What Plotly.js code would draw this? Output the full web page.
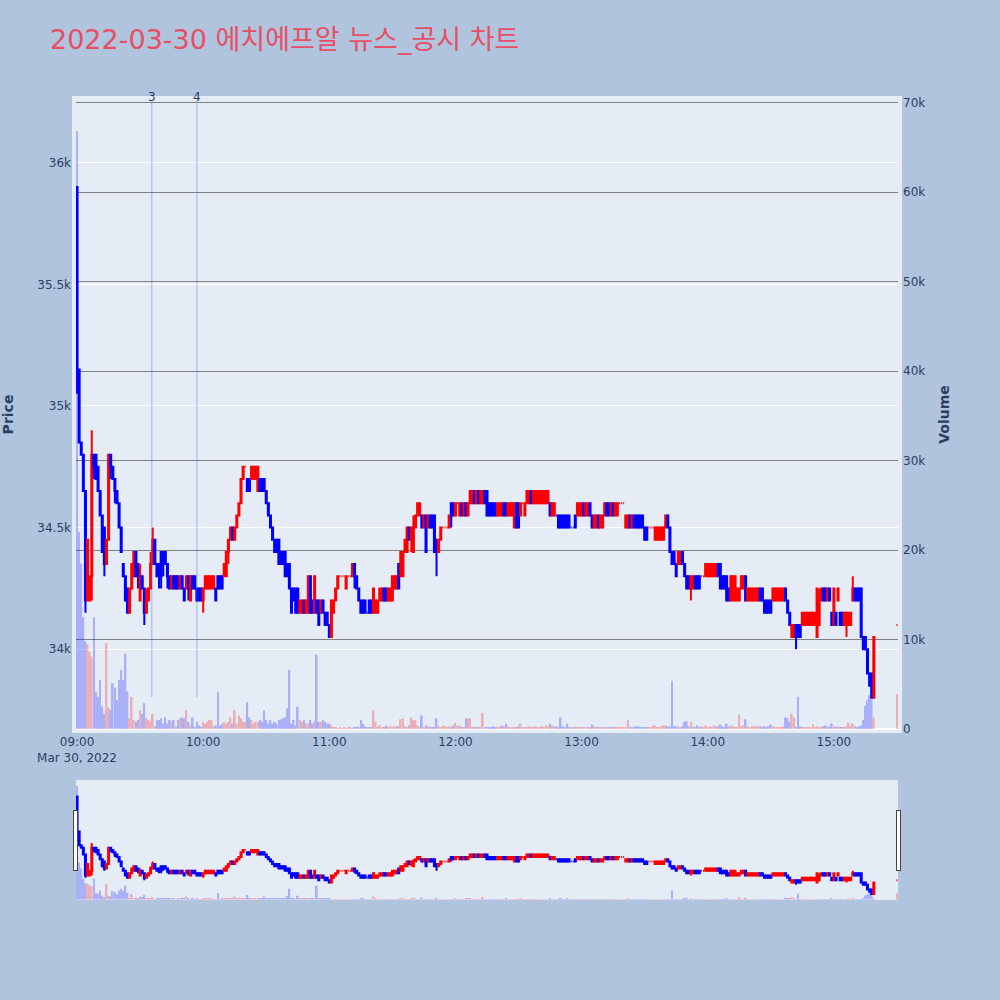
<!DOCTYPE html>
<html><head><meta charset="utf-8">
<script src="https://cdn.plot.ly/plotly-3.0.1.min.js"></script>
<style>html,body{margin:0;padding:0;background:#B0C4DE;}</style>
</head><body>
<div id="chart" style="width:1000px;height:1000px;"></div>
<script>
// 1-minute bars from 09:00 to 15:19, plus the 15:30 closing auction bar
const openP = [
35900,35150,34850,34800,34650,34200,34200,34300,34800,34800,
34750,34650,34550,34500,34350,34450,34800,34750,34700,34650,
34600,34500,34350,34300,34250,34150,34250,34300,34400,34350,
34200,34300,34250,34150,34200,34250,34350,34450,34350,34350,
34400,34400,34400,34350,34300,34250,34300,34300,34300,34250,
34300,34250,34250,34300,34200,34300,34300,34250,34250,34250,
34200,34250,34250,34250,34250,34250,34250,34300,34300,34300,
34300,34300,34400,34450,34500,34450,34500,34550,34600,34700,
34750,34700,34700,34700,34700,34700,34650,34700,34700,34700,
34650,34600,34550,34500,34450,34450,34450,34400,34400,34400,
34350,34350,34250,34250,34250,34250,34150,34150,34200,34150,
34150,34300,34200,34150,34200,34200,34150,34200,34150,34150,
34100,34050,34150,34200,34250,34300,34300,34300,34250,34300,
34300,34300,34350,34300,34250,34200,34200,34200,34150,34200,
34200,34150,34150,34150,34200,34200,34250,34250,34200,34200,
34200,34250,34250,34350,34300,34300,34400,34400,34500,34450,
34400,34500,34550,34550,34550,34500,34550,34500,34550,34550,
34550,34450,34400,34450,34500,34500,34500,34500,34600,34600,
34550,34600,34550,34600,34550,34600,34550,34600,34600,34650,
34600,34650,34600,34600,34650,34650,34600,34600,34600,34600,
34550,34550,34550,34600,34600,34550,34550,34550,34500,34600,
34600,34550,34600,34550,34600,34600,34650,34600,34600,34600,
34600,34600,34600,34600,34600,34600,34550,34550,34550,34550,
34550,34550,34550,34550,34550,34500,34500,34550,34550,34550,
34550,34600,34550,34550,34600,34550,34500,34500,34550,34500,
34500,34550,34600,34600,34550,34600,34550,34550,34600,34600,
34600,34500,34500,34550,34500,34550,34550,34550,34550,34550,
34500,34500,34500,34500,34500,34450,34450,34450,34450,34450,
34500,34550,34500,34400,34400,34350,34350,34350,34400,34350,
34300,34300,34250,34250,34300,34300,34300,34300,34300,34300,
34300,34300,34300,34300,34300,34350,34350,34300,34300,34300,
34250,34200,34200,34200,34200,34200,34250,34250,34300,34200,
34200,34200,34200,34200,34200,34250,34250,34200,34200,34200,
34200,34200,34200,34200,34200,34200,34200,34250,34200,34150,
34050,34050,34100,34100,34100,34100,34100,34100,34100,34100,
34100,34100,34050,34100,34200,34250,34250,34200,34250,34150,
34100,34150,34200,34150,34150,34100,34100,34100,34100,34200,
34250,34250,34250,34250,34050,34050,34000,33900,33900,33800,
34100];
const highP = [
35900,35150,34850,34800,34650,34450,34300,34900,34800,34800,
34750,34650,34550,34500,34450,34800,34800,34750,34700,34650,
34600,34500,34350,34300,34250,34250,34350,34400,34400,34350,
34350,34300,34250,34250,34250,34400,34500,34450,34350,34350,
34400,34400,34400,34350,34300,34300,34300,34300,34300,34300,
34300,34250,34300,34300,34300,34300,34300,34250,34250,34250,
34250,34300,34300,34300,34300,34300,34250,34300,34300,34300,
34350,34400,34450,34500,34500,34500,34550,34600,34700,34750,
34750,34700,34700,34750,34750,34750,34750,34700,34700,34700,
34650,34600,34550,34500,34450,34450,34450,34400,34400,34400,
34350,34350,34250,34250,34250,34250,34200,34200,34200,34200,
34300,34300,34200,34300,34200,34200,34200,34200,34150,34150,
34100,34200,34200,34250,34300,34300,34300,34300,34300,34300,
34300,34350,34350,34300,34250,34200,34200,34200,34150,34200,
34200,34250,34200,34200,34250,34250,34250,34250,34250,34250,
34300,34300,34300,34350,34400,34400,34450,34500,34500,34500,
34550,34550,34600,34600,34550,34550,34550,34550,34550,34550,
34550,34450,34450,34500,34500,34500,34500,34550,34600,34600,
34600,34600,34600,34600,34600,34600,34600,34650,34650,34650,
34650,34650,34650,34650,34650,34650,34600,34600,34600,34600,
34600,34600,34600,34600,34600,34600,34600,34600,34600,34600,
34600,34600,34600,34600,34650,34650,34650,34650,34650,34650,
34650,34650,34650,34650,34650,34600,34600,34600,34550,34550,
34550,34550,34550,34550,34550,34500,34500,34550,34600,34600,
34600,34600,34600,34600,34600,34550,34550,34550,34550,34550,
34550,34600,34600,34600,34600,34600,34600,34600,34600,34600,
34600,34550,34550,34550,34550,34550,34550,34550,34550,34550,
34500,34500,34500,34500,34500,34500,34500,34500,34500,34500,
34550,34550,34500,34400,34400,34350,34400,34400,34400,34350,
34300,34300,34300,34300,34300,34300,34300,34300,34300,34350,
34350,34350,34350,34350,34350,34350,34350,34300,34300,34300,
34250,34300,34300,34300,34250,34250,34300,34300,34300,34250,
34250,34250,34250,34250,34250,34250,34250,34200,34200,34200,
34200,34250,34250,34250,34250,34250,34250,34250,34200,34150,
34100,34100,34100,34100,34100,34150,34150,34150,34150,34150,
34150,34150,34250,34250,34250,34250,34250,34250,34250,34150,
34250,34150,34250,34150,34150,34150,34150,34150,34150,34300,
34250,34250,34250,34250,34050,34050,34000,33900,33900,34050,
34100];
const lowP = [
35050,34850,34800,34650,34150,34200,34200,34200,34700,34700,
34650,34550,34400,34300,34350,34450,34700,34700,34600,34600,
34500,34400,34300,34200,34150,34150,34250,34300,34300,34250,
34200,34250,34100,34150,34200,34250,34350,34350,34300,34250,
34250,34300,34350,34250,34250,34250,34250,34250,34250,34250,
34250,34200,34250,34200,34200,34250,34250,34200,34200,34200,
34150,34250,34250,34250,34250,34250,34200,34250,34250,34250,
34300,34300,34350,34450,34450,34450,34500,34550,34600,34700,
34750,34650,34650,34700,34700,34700,34650,34650,34650,34650,
34600,34550,34500,34450,34400,34400,34350,34350,34350,34300,
34300,34250,34150,34200,34150,34150,34150,34150,34150,34150,
34150,34150,34150,34150,34150,34100,34150,34150,34100,34100,
34050,34050,34150,34200,34250,34300,34300,34300,34250,34300,
34300,34300,34250,34250,34200,34150,34150,34150,34150,34150,
34150,34150,34150,34150,34200,34200,34200,34200,34200,34200,
34200,34250,34250,34250,34300,34300,34400,34400,34450,34400,
34400,34500,34550,34550,34500,34500,34400,34500,34500,34500,
34400,34300,34400,34450,34500,34500,34500,34500,34500,34550,
34550,34600,34550,34550,34550,34550,34550,34600,34600,34600,
34600,34600,34600,34600,34600,34550,34550,34550,34550,34550,
34550,34550,34550,34550,34550,34550,34550,34550,34500,34500,
34500,34550,34600,34550,34600,34600,34600,34600,34600,34600,
34600,34600,34600,34600,34600,34550,34550,34550,34550,34500,
34500,34500,34500,34500,34500,34500,34500,34500,34550,34550,
34550,34550,34550,34550,34550,34500,34500,34500,34500,34500,
34500,34550,34550,34550,34550,34550,34550,34550,34600,34600,
34600,34500,34500,34500,34500,34500,34500,34500,34500,34500,
34450,34450,34500,34500,34500,34450,34450,34450,34450,34450,
34500,34500,34400,34350,34350,34300,34350,34350,34350,34300,
34250,34250,34200,34250,34250,34250,34250,34300,34300,34300,
34300,34300,34300,34300,34300,34300,34250,34250,34250,34200,
34200,34200,34200,34200,34200,34200,34250,34250,34200,34200,
34200,34200,34200,34200,34200,34200,34200,34150,34150,34150,
34150,34200,34200,34200,34200,34200,34200,34200,34150,34100,
34050,34050,34000,34050,34050,34100,34100,34100,34100,34100,
34100,34100,34050,34100,34200,34200,34200,34200,34200,34100,
34100,34100,34200,34100,34100,34100,34050,34100,34100,34200,
34200,34200,34200,34050,34000,34000,33900,33850,33800,33800,
34100];
const closeP = [
35100,34850,34800,34650,34200,34450,34300,34800,34750,34700,
34650,34550,34400,34350,34450,34800,34750,34700,34650,34600,
34500,34400,34300,34200,34150,34250,34350,34400,34300,34300,
34300,34250,34150,34200,34250,34350,34450,34350,34300,34300,
34300,34350,34350,34300,34250,34300,34250,34250,34250,34300,
34250,34200,34300,34250,34300,34250,34250,34200,34200,34200,
34250,34300,34300,34300,34300,34300,34200,34250,34250,34250,
34350,34400,34450,34500,34450,34500,34550,34600,34700,34750,
34750,34650,34650,34750,34750,34750,34750,34650,34650,34650,
34600,34550,34500,34450,34400,34400,34350,34350,34350,34300,
34300,34250,34150,34200,34150,34150,34200,34200,34150,34200,
34300,34150,34150,34300,34150,34100,34200,34150,34100,34100,
34050,34200,34200,34250,34300,34300,34300,34300,34300,34300,
34300,34350,34300,34250,34200,34150,34150,34150,34150,34150,
34150,34250,34200,34200,34250,34250,34200,34200,34250,34250,
34300,34300,34300,34250,34400,34400,34450,34500,34450,34500,
34500,34550,34600,34600,34500,34550,34400,34550,34500,34500,
34400,34400,34450,34500,34500,34500,34500,34550,34550,34550,
34600,34600,34600,34550,34600,34550,34600,34650,34650,34600,
34650,34600,34650,34650,34600,34550,34550,34550,34550,34550,
34600,34600,34600,34550,34550,34600,34600,34600,34600,34500,
34500,34600,34600,34600,34650,34650,34600,34650,34650,34650,
34650,34650,34650,34650,34650,34550,34600,34600,34550,34500,
34500,34500,34500,34500,34500,34500,34500,34500,34600,34600,
34600,34550,34600,34600,34550,34500,34550,34550,34500,34550,
34550,34600,34550,34550,34600,34550,34600,34600,34600,34600,
34600,34550,34550,34500,34550,34500,34500,34500,34500,34500,
34450,34450,34500,34500,34500,34500,34500,34500,34500,34500,
34550,34500,34400,34350,34350,34300,34400,34400,34350,34300,
34250,34250,34300,34300,34250,34250,34250,34300,34300,34350,
34350,34350,34350,34350,34350,34300,34250,34250,34250,34200,
34200,34300,34300,34300,34250,34250,34300,34300,34200,34250,
34250,34250,34250,34250,34250,34200,34200,34150,34150,34150,
34150,34250,34250,34250,34250,34250,34250,34200,34150,34100,
34100,34100,34050,34050,34050,34150,34150,34150,34150,34150,
34150,34150,34250,34200,34250,34200,34200,34250,34200,34100,
34250,34100,34250,34100,34100,34150,34150,34150,34150,34250,
34200,34200,34200,34050,34000,34000,33900,33850,33800,34050,
34100];
const volume = [
66800,22000,18500,12500,9800,9500,8600,8100,12500,4100,
3600,5500,2500,1700,9600,2400,2100,5100,4600,3200,
5500,6600,5500,8400,4200,1200,3600,1000,800,1000,
2100,1700,2900,1200,1000,800,1700,300,1000,1000,
1200,600,1300,600,1000,800,1000,250,1000,1200,
1300,1200,2100,800,400,1300,250,800,400,250,
800,600,800,1000,1000,250,400,4100,400,600,
800,600,800,1300,600,2100,600,1500,1200,800,
800,3000,1300,1000,600,800,800,1000,800,2100,
1000,600,1000,600,800,600,1000,1100,1200,1300,
2300,6600,600,1000,400,2500,1000,800,1000,600,
600,1000,600,800,8300,800,800,1000,800,600,
600,400,200,150,100,150,100,150,100,200,
150,100,200,150,250,1000,600,300,200,200,
250,2100,800,200,400,200,200,400,200,300,
200,300,300,300,1100,1200,300,200,400,1300,
1000,1000,400,200,1500,200,400,300,200,200,
200,1200,300,200,400,300,200,300,200,400,
700,300,400,200,200,1200,1200,1200,200,200,
150,200,200,1800,200,200,200,150,300,200,
250,200,400,300,600,300,200,150,200,200,
300,600,200,150,200,300,200,200,300,200,
200,300,250,400,300,600,400,300,300,200,
1300,300,200,600,200,150,200,200,150,200,
150,200,150,200,200,500,300,200,200,200,
150,150,200,150,150,200,150,150,150,150,
200,200,1000,200,150,200,300,300,200,150,
150,200,150,150,400,400,200,150,300,400,
400,300,300,5400,300,300,300,200,300,800,
850,300,800,300,200,400,150,300,200,400,
200,300,200,400,300,300,500,300,200,600,
300,400,300,200,200,1600,300,400,1100,300,
200,300,300,300,300,300,200,300,200,300,
500,300,200,200,200,150,300,1300,1200,800,
1700,1300,200,3600,300,150,200,150,200,200,
500,150,300,200,150,300,400,300,150,600,
300,150,300,150,200,200,300,700,300,600,
300,150,300,400,1000,2600,3200,3800,3300,1300,
3900];
const closingAuction = '2022-03-30 15:30';
const newsTimes = ['2022-03-30 09:35:30', '2022-03-30 09:57:00'];
const newsLabels = ['3', '4'];
const chartTitle = '2022-03-30 에치에프알 뉴스_공시 차트';

// timestamps: one per minute for the continuous session, then the auction bar
function pad(n){return (n<10?'0':'')+n;}
const times = [];
for (let i = 0; i < openP.length - 1; i++) {
  const t = 9*60 + i;
  times.push('2022-03-30 ' + pad(Math.floor(t/60)) + ':' + pad(t%60));
}
times.push(closingAuction);

const UP = '#FF0000', DOWN = '#0000FF';
const volColors = closeP.map((c, i) => {
  const o = openP[i];
  if (c > o) return UP;
  if (c < o) return DOWN;
  const prev = i > 0 ? closeP[i-1] : c;
  return c >= prev ? UP : DOWN;
});

const candle = {
  type: 'candlestick', x: times, open: openP, high: highP, low: lowP, close: closeP,
  increasing: {line: {color: UP, width: 2}, fillcolor: UP},
  decreasing: {line: {color: DOWN, width: 2}, fillcolor: DOWN},
  xaxis: 'x', yaxis: 'y', name: 'Price'
};
const vol = {
  type: 'bar', x: times, y: volume, marker: {color: volColors, line: {width: 0}},
  opacity: 0.25, xaxis: 'x', yaxis: 'y2', name: 'Volume'
};

const W = 822, H = 629;
const shapes = [{
  type: 'rect', xref: 'paper', yref: 'paper', x0: -4/W, x1: 1 + 4/W, y0: -4/H, y1: 1 + 4/H,
  fillcolor: '#E5ECF6', line: {width: 0}, layer: 'below'
}];
const annotations = [];
newsTimes.forEach((t, i) => {
  shapes.push({type: 'line', xref: 'x', yref: 'paper', x0: t, x1: t, y0: 0.051, y1: 1,
    line: {color: 'rgba(65,105,225,0.3)', width: 1.5}});
  annotations.push({x: t, xref: 'x', y: 1, yref: 'paper', text: newsLabels[i], showarrow: false,
    yanchor: 'middle', yshift: 3, font: {size: 12, color: '#2a3f5f'}});
});

const FONT = '"DejaVu Sans", "Noto Sans CJK KR", sans-serif';
const layout = {
  width: 1000, height: 1000,
  paper_bgcolor: '#B0C4DE', plot_bgcolor: 'rgba(0,0,0,0)',
  margin: {l: 76, r: 102, t: 100, b: 271, autoexpand: false},
  font: {family: FONT, color: '#2a3f5f', size: 12},
  title: {text: chartTitle, x: 0.05, xanchor: 'left', y: 0.96, yanchor: 'middle', yref: 'container',
    font: {size: 27, color: '#E84E64', family: FONT}},
  showlegend: false,
  bargap: 0.2,
  xaxis: {type: 'date', range: ['2022-03-30 08:59:30', '2022-03-30 15:30:30'], showgrid: false,
    zeroline: false, ticks: '', ticklabelstandoff: 4,
    rangeslider: {visible: true, thickness: 0.19, bgcolor: '#E5ECF6', borderwidth: 0}},
  yaxis: {title: {text: '<b>Price</b>', standoff: 20}, range: [33672, 36258], gridcolor: 'white',
    zeroline: false, ticks: '', ticklabelstandoff: 4},
  yaxis2: {title: {text: '<b>Volume</b>', standoff: 14}, overlaying: 'y', side: 'right', range: [0, 70300],
    gridcolor: 'gray', showgrid: true, zeroline: true, zerolinecolor: 'white', zerolinewidth: 2,
    ticks: '', ticklabelstandoff: 4},
  shapes: shapes,
  annotations: annotations
};

Plotly.newPlot('chart', [candle, vol], layout, {displayModeBar: false});
</script>
</body></html>
